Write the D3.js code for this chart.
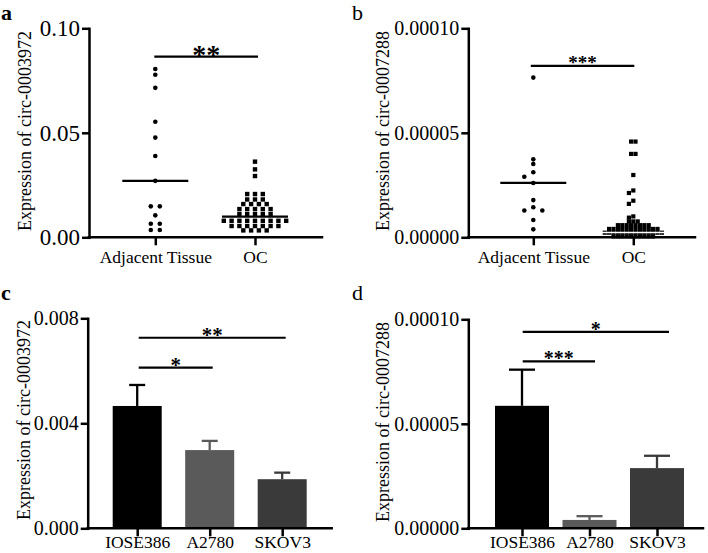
<!DOCTYPE html>
<html>
<head>
<meta charset="utf-8">
<script src="https://cdn.jsdelivr.net/npm/d3@7"></script>
<style>
  html, body { margin: 0; padding: 0; background: #fff; }
  text { font-family: "Liberation Serif", "Times New Roman", serif; fill: #000; }
</style>
</head>
<body>
<script>
// ---------------- DATA ----------------
const scatterCategories = ["Adjacent Tissue", "OC"];
const barCategories = ["IOSE386", "A2780", "SKOV3"];

// Panel a: circ-0003972 in tissues
const aAdjacent = [0.0805, 0.0778, 0.0715, 0.0553, 0.0477, 0.0389, 0.0270,
  0.0148, 0.0148, 0.0105, 0.0065, 0.0065, 0.0035, 0.0035];
const aOC = [0.0362, 0.0325, 0.0293,
  0.0207, 0.0207, 0.0207,
  0.0181, 0.0181, 0.0181,
  0.0159, 0.0159, 0.0159, 0.0159,
  0.0135, 0.0135, 0.0135, 0.0135, 0.0135,
  0.0111, 0.0111, 0.0111, 0.0111, 0.0111,
  0.0079, 0.0079, 0.0079, 0.0079, 0.0079, 0.0079, 0.0079, 0.0079, 0.0079,
  0.0054, 0.0054, 0.0054, 0.0054, 0.0054, 0.0054, 0.0054,
  0.0033, 0.0033, 0.0033, 0.0033];
const aMeans = [0.0270, 0.0099];
const aTicks = [0, 0.05, 0.10];
const aSig = [{ from: 0, to: 1, level: 0.0864, label: "**" }];

// Panel b: circ-0007288 in tissues
const bAdjacent = [0.0000764, 0.0000373, 0.0000351, 0.0000311, 0.0000290, 0.0000260,
  0.0000178, 0.0000144, 0.0000128, 0.0000128, 0.0000083, 0.0000038];
const bOC = [0.0000458, 0.0000458, 0.0000399, 0.0000399, 0.0000298,
  0.0000224, 0.0000212, 0.0000175, 0.0000160, 0.0000100, 0.0000094,
  0.0000076, 0.0000076, 0.0000076,
  0.0000058, 0.0000058, 0.0000058, 0.0000058, 0.0000058, 0.0000058, 0.0000058, 0.0000058,
  0.0000040, 0.0000040, 0.0000040, 0.0000040, 0.0000040, 0.0000040, 0.0000040, 0.0000040, 0.0000040, 0.0000040, 0.0000040, 0.0000040,
  0.0000022, 0.0000022, 0.0000022, 0.0000022, 0.0000022, 0.0000022, 0.0000022, 0.0000022, 0.0000022, 0.0000022, 0.0000022, 0.0000022, 0.0000022, 0.0000022,
  0.0000004, 0.0000004, 0.0000004, 0.0000004, 0.0000004, 0.0000004, 0.0000004, 0.0000004, 0.0000004, 0.0000004];
const bMeans = [0.0000260, 0.0000023];
const bTicks = [0, 0.00005, 0.00010];
const bSig = [{ from: 0, to: 1, level: 0.0000820, label: "***" }];

// Panel c: circ-0003972 in cell lines
const cMeans = [0.00466, 0.00298, 0.00187];
const cErrors = [0.00080, 0.00035, 0.00025];
const cTicks = [0, 0.004, 0.008];
const cSig = [
  { from: 0, to: 2, level: 0.00726, label: "**" },
  { from: 0, to: 1, level: 0.00612, label: "*" }
];

// Panel d: circ-0007288 in cell lines
const dMeans = [0.0000586, 0.0000040, 0.0000288];
const dErrors = [0.0000173, 0.0000018, 0.0000059];
const dTicks = [0, 0.00005, 0.00010];
const dSig = [
  { from: 0, to: 2, level: 0.0000940, label: "*" },
  { from: 0, to: 1, level: 0.0000799, label: "***" }
];

const barColors = ["#000000", "#5a5a5a", "#3a3a3a"];

// ---------------- DRAWING ----------------
const svg = d3.select("body").append("svg")
  .attr("width", 708).attr("height", 553)
  .style("background", "#fff");

const AXW = 2.5;

function swarm(values, y, step, thrY) {
  const groups = d3.groups(values, v => v).sort((p, q) => q[0] - p[0]);
  const placed = [];
  const hits = (dx, py) => placed.some(p =>
    Math.abs(p.dx - dx) < step * 0.9 && Math.abs(p.py - py) < thrY);
  const cands = [];
  for (let k = 0; k < 40; k++) cands.push(k === 0 ? 0 : (k % 2 ? -1 : 1) * Math.ceil(k / 2) * step);
  for (const [v, arr] of groups) {
    const n = arr.length, py = y(v);
    const base = arr.map((_, i) => (i - (n - 1) / 2) * step);
    if (base.every(bx => !hits(bx, py))) {
      base.forEach(bx => placed.push({ v, py, dx: bx }));
    } else {
      arr.forEach(() => {
        const dx = cands.find(c => !hits(c, py));
        placed.push({ v, py, dx: dx === undefined ? 0 : dx });
      });
    }
  }
  return placed;
}

function yAxis(g, y, x0, ticks, fmt, fs) {
  const ax = g.append("g").attr("transform", `translate(${x0},0)`)
    .call(d3.axisLeft(y).tickValues(ticks).tickFormat(fmt)
      .tickSize(7).tickSizeOuter(0).tickPadding(2));
  ax.select(".domain").attr("stroke", "#000").attr("stroke-width", AXW).attr("stroke-linecap", "square");
  ax.selectAll(".tick line").attr("stroke", "#000").attr("stroke-width", AXW);
  ax.selectAll(".tick text").style("font-family", "'Liberation Serif', serif")
    .style("font-size", fs + "px").attr("fill", "#000");
}

function xAxis(g, x, x0, xEnd, y0, baseOff) {
  g.append("line").attr("x1", x0).attr("x2", xEnd).attr("y1", y0).attr("y2", y0)
    .attr("stroke", "#000").attr("stroke-width", AXW).attr("stroke-linecap", "square");
  const ax = g.append("g").attr("transform", `translate(0,${y0})`)
    .call(d3.axisBottom(x).tickSize(8).tickSizeOuter(0));
  ax.select(".domain").remove();
  ax.selectAll(".tick line").attr("stroke", "#000").attr("stroke-width", AXW);
  ax.selectAll(".tick text").attr("y", baseOff).attr("dy", 0)
    .style("font-family", "'Liberation Serif', serif").style("font-size", "17.5px").attr("fill", "#000");
}

function yTitle(g, text, cx, cy) {
  g.append("text").attr("transform", `translate(${cx},${cy}) rotate(-90)`)
    .attr("text-anchor", "middle").attr("dominant-baseline", "central")
    .style("font-size", "18px").text(text);
}

function panelLetter(g, t, x, y, bold) {
  g.append("text").attr("x", x).attr("y", y).style("font-size", "22px")
    .style("font-weight", bold ? "bold" : "normal").text(t);
}

function sigLines(g, sigs, xpos, y, ext, fs) {
  sigs.forEach((s, i) => {
    const x1 = xpos(s.from) + ext[i][0], x2 = xpos(s.to) + ext[i][1], yy = y(s.level);
    g.append("line").attr("x1", x1).attr("x2", x2).attr("y1", yy).attr("y2", yy)
      .attr("stroke", "#000").attr("stroke-width", 2.2);
    g.append("text").attr("x", (x1 + x2) / 2).attr("y", yy + 0.5 * fs[i] - 6.3)
      .attr("text-anchor", "middle").style("font-size", fs[i] + "px").style("font-weight", "bold")
      .text(s.label);
  });
}

// ---- Scatter panels ----
function scatterPanel(cfg) {
  const g = svg.append("g");
  const y = d3.scaleLinear().domain([0, cfg.ticks[cfg.ticks.length - 1]]).range([cfg.yBot, cfg.yTop]);
  const x = d3.scalePoint().domain(scatterCategories).range(cfg.xRange);
  const adj = swarm(cfg.adjacent, y, cfg.stepAdj, 4.5);
  g.append("g").selectAll("circle").data(adj).join("circle")
    .attr("cx", d => x(scatterCategories[0]) + d.dx).attr("cy", d => d.py)
    .attr("r", 2.3).attr("fill", "#000");
  const oc = swarm(cfg.oc, y, cfg.stepOC, cfg.thrOC);
  const sz = cfg.sqSize;
  g.append("g").selectAll("rect").data(oc).join("rect")
    .attr("x", d => x(scatterCategories[1]) + d.dx - sz / 2).attr("y", d => d.py - sz / 2)
    .attr("width", sz).attr("height", sz).attr("fill", "#000");
  cfg.means.forEach((m, i) => {
    const cx = x(scatterCategories[i]);
    g.append("line").attr("x1", cx - 33).attr("x2", cx + 33).attr("y1", y(m)).attr("y2", y(m))
      .attr("stroke", cfg.meanColors[i]).attr("stroke-width", cfg.meanWidths[i]);
  });
  yAxis(g, y, cfg.x0, cfg.ticks, d3.format(cfg.fmt), cfg.tickFs);
  xAxis(g, x, cfg.x0, cfg.xEnd, cfg.yBot, cfg.labelOff);
  sigLines(g, cfg.sig, i => x(scatterCategories[i]), y, cfg.sigExt, cfg.sigFs);
  yTitle(g, cfg.title, cfg.titleX, cfg.titleY);
  panelLetter(g, cfg.letter, cfg.letterX, cfg.letterY, cfg.bold);
}

scatterPanel({
  adjacent: aAdjacent, oc: aOC, means: aMeans, ticks: aTicks, sig: aSig, fmt: ".2f",
  x0: 89, xEnd: 322, yTop: 28.3, yBot: 237.3, xRange: [155.3, 255],
  stepAdj: 9, stepOC: 7.8, thrOC: 4, sqSize: 4.4, meanColors: ["#000", "#000"], meanWidths: [2.2, 2.2],
  tickFs: 23, sigExt: [[-1, 3]], sigFs: [28],
  labelOff: 26, title: "Expression of circ-0003972", titleX: 25, titleY: 131,
  letter: "a", letterX: 1, letterY: 20, bold: true
});

scatterPanel({
  adjacent: bAdjacent, oc: bOC, means: bMeans, ticks: bTicks, sig: bSig, fmt: ".5f",
  x0: 468.3, xEnd: 695, yTop: 28.3, yBot: 237.3, xRange: [533.3, 633.3],
  stepAdj: 9, stepOC: 4.4, thrOC: 3.5, sqSize: 4.2, meanColors: ["#000", "#fff"], meanWidths: [2.2, 1.5],
  tickFs: 20, sigExt: [[-2.5, 1]], sigFs: [19],
  labelOff: 26, title: "Expression of circ-0007288", titleX: 382.5, titleY: 131,
  letter: "b", letterX: 352, letterY: 20, bold: false
});

// ---- Bar panels ----
function barPanel(cfg) {
  const g = svg.append("g");
  const y = d3.scaleLinear().domain([0, cfg.ticks[cfg.ticks.length - 1]]).range([cfg.yBot, cfg.yTop]);
  const x = d3.scaleBand().domain(barCategories).range(cfg.xRange)
    .paddingInner(cfg.padInner).paddingOuter(0);
  const bw = x.bandwidth();
  const rows = barCategories.map((c, i) => ({ c, m: cfg.means[i], e: cfg.errors[i], col: barColors[i] }));
  rows.forEach(r => {
    const cx = x(r.c) + bw / 2;
    g.append("line").attr("x1", cx).attr("x2", cx).attr("y1", y(r.m)).attr("y2", y(r.m + r.e))
      .attr("stroke", r.col).attr("stroke-width", 2.3);
    g.append("line").attr("x1", cx - cfg.cap / 2).attr("x2", cx + cfg.cap / 2)
      .attr("y1", y(r.m + r.e)).attr("y2", y(r.m + r.e))
      .attr("stroke", r.col).attr("stroke-width", 2.3);
  });
  g.append("g").selectAll("rect").data(rows).join("rect")
    .attr("x", d => x(d.c)).attr("width", bw)
    .attr("y", d => y(d.m)).attr("height", d => y(0) - y(d.m))
    .attr("fill", d => d.col);
  yAxis(g, y, cfg.x0, cfg.ticks, d3.format(cfg.fmt), cfg.tickFs);
  const xc = d3.scalePoint().domain(barCategories)
    .range([x(barCategories[0]) + bw / 2, x(barCategories[2]) + bw / 2]);
  xAxis(g, xc, cfg.x0, cfg.xEnd, cfg.yBot, cfg.labelOff);
  sigLines(g, cfg.sig, i => x(barCategories[i]) + bw / 2, y, cfg.sigExt, cfg.sigFs);
  yTitle(g, cfg.title, cfg.titleX, cfg.titleY);
  panelLetter(g, cfg.letter, cfg.letterX, cfg.letterY, cfg.bold);
}

barPanel({
  means: cMeans, errors: cErrors, ticks: cTicks, sig: cSig, fmt: ".3f",
  x0: 87.7, xEnd: 331.7, yTop: 318.3, yBot: 528.3, xRange: [112.7, 306.7], padInner: 0.324,
  cap: 16, tickFs: 20, sigExt: [[1.5, 3.5], [1.5, 3]], sigFs: [21, 21],
  labelOff: 20, title: "Expression of circ-0003972", titleX: 24, titleY: 420,
  letter: "c", letterX: 1, letterY: 300, bold: true
});

barPanel({
  means: dMeans, errors: dErrors, ticks: dTicks, sig: dSig, fmt: ".5f",
  x0: 468.3, xEnd: 703, yTop: 319.3, yBot: 528.3, xRange: [495, 684], padInner: 0.2,
  cap: 26, tickFs: 20, sigExt: [[0.7, 12], [0.7, 5.5]], sigFs: [20, 20],
  labelOff: 20, title: "Expression of circ-0007288", titleX: 382.5, titleY: 422,
  letter: "d", letterX: 352, letterY: 300, bold: false
});
</script>
</body>
</html>
